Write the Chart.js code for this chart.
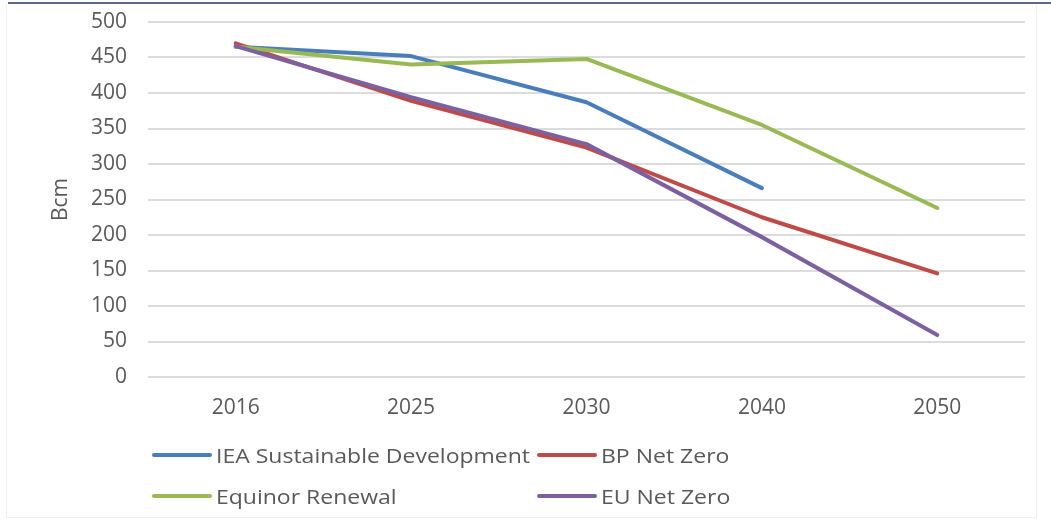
<!DOCTYPE html>
<html>
<head>
<meta charset="utf-8">
<script src="https://cdn.jsdelivr.net/npm/chart.js@4/dist/chart.umd.min.js"></script>
<style>
  html, body { margin: 0; padding: 0; background: #fff; }
  #wrap { position: relative; width: 1051px; height: 526px; overflow: hidden; font-family: 'Open Sans', sans-serif; }
  #topline { position: absolute; left: 8px; right: 0; top: 2px; height: 2px; background: #5f6688; }
  #frame { position: absolute; left: 6px; top: 4px; right: 14px; bottom: 8px; border: 1px solid #f0f0f0; border-top: none; }
  #chart-box { position: absolute; left: 0; top: 0; width: 1051px; height: 526px; }
  .legend-item { position: absolute; display: flex; align-items: center; height: 24px; white-space: nowrap; }
  .legend-line { width: 60px; height: 4px; border-radius: 2px; margin-right: 4px; }
  .legend-text { display: inline-block; font-size: 20px; color: #595959; transform: scaleX(1.15); transform-origin: left center; }
</style>
</head>
<body>
<div id="wrap">
  <div id="topline"></div>
  <div id="frame"></div>
  <div id="chart-box"><canvas id="gas-chart" width="1051" height="526"></canvas></div>
  <div id="legend"></div>
</div>
<script>
'use strict';

const YEARS = ['2016', '2025', '2030', '2040', '2050'];

const IEA_SD = [465, 452, 387, 266, null];
const BP_NET_ZERO = [470, 389, 323, 225, 146];
const EQUINOR_RENEWAL = [465, 440, 448, 355, 238];
const EU_NET_ZERO = [466, 394, 328, 197, 59];

const COLORS = {
  iea: '#4a7ebb',
  bp: '#be4b48',
  equinor: '#98b954',
  eu: '#7d60a0',
  grid: '#dcdcdc',
  text: '#595959',
};

const FONT = "'Open Sans', sans-serif";

// 범례 위치 (2열)
const SERIES = [
  { label: 'IEA Sustainable Development', data: IEA_SD, color: COLORS.iea, order: 4, lx: 152, ly: 443 },
  { label: 'BP Net Zero', data: BP_NET_ZERO, color: COLORS.bp, order: 3, lx: 537, ly: 443 },
  { label: 'Equinor Renewal', data: EQUINOR_RENEWAL, color: COLORS.equinor, order: 2, lx: 152, ly: 484 },
  { label: 'EU Net Zero', data: EU_NET_ZERO, color: COLORS.eu, order: 1, lx: 537, ly: 484 },
];

const chart = new Chart(document.getElementById('gas-chart'), {
  type: 'line',
  data: {
    labels: YEARS,
    datasets: SERIES.map(s => ({
      label: s.label,
      data: s.data,
      borderColor: s.color,
      backgroundColor: s.color,
      borderWidth: 4,
      borderCapStyle: 'round',
      borderJoinStyle: 'round',
      pointRadius: 0,
      tension: 0,
      fill: false,
      spanGaps: false,
      order: s.order,
    })),
  },
  options: {
    responsive: false,
    animation: false,
    layout: { padding: { left: 0, right: 26, top: 22, bottom: 0 } },
    plugins: {
      legend: { display: false },
      tooltip: { enabled: false },
    },
    scales: {
      x: {
        offset: true,
        grid: { display: false, drawTicks: false },
        border: { display: false },
        ticks: { color: COLORS.text, padding: 18, font: { size: 21, family: FONT } },
        afterFit: (scale) => { scale.height = 149; },
      },
      y: {
        min: 0,
        max: 500,
        ticks: { stepSize: 50, color: COLORS.text, padding: 21, font: { size: 21, family: FONT } },
        grid: { color: COLORS.grid, lineWidth: 2, drawTicks: false },
        border: { display: false },
        title: {
          display: true,
          text: 'Bcm',
          color: COLORS.text,
          font: { size: 21, family: FONT },
          padding: { top: 48, bottom: 0 },
        },
        afterFit: (scale) => {
          scale.width = 148;
          scale.paddingTop = 0;
          scale.paddingBottom = 0;
        },
      },
    },
  },
});

// HTML 범례
document.getElementById('legend').innerHTML = SERIES.map(s => `
  <div class="legend-item" style="left:${s.lx}px; top:${s.ly}px;">
    <div class="legend-line" style="background:${s.color};"></div><span class="legend-text">${s.label}</span>
  </div>
`).join('');
</script>
</body>
</html>
